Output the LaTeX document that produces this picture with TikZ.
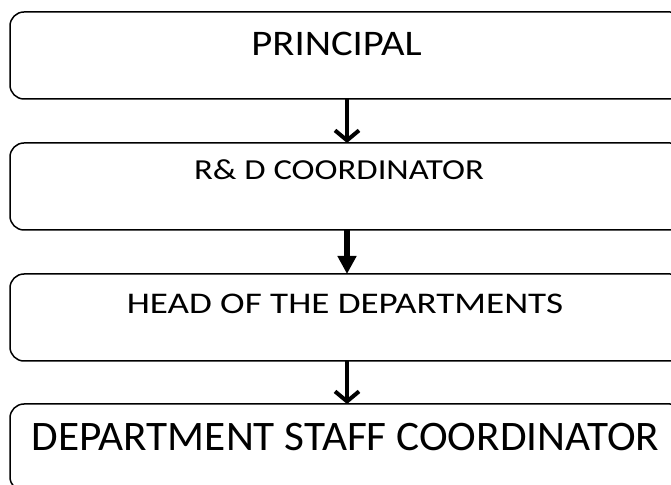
\documentclass[tikz,border=0pt]{standalone}
\usepackage{graphicx}
\usepackage{fontspec}
\setmainfont{Carlito}
\usetikzlibrary{arrows.meta}
\begin{document}
\begin{tikzpicture}[x=1pt,y=1pt,
  box/.style={draw=black,line width=1.5pt,rounded corners=14pt,minimum width=674pt,minimum height=87pt,inner sep=0pt,outer sep=0pt},
  lbl/.style={anchor=base,inner sep=0pt},
  barb/.style={line width=4pt,-{Straight Barb[length=10pt,width=24pt]}},
  tri/.style={line width=6.5pt,-{Triangle[length=18pt,width=18pt]}}]
\useasboundingbox (0,0) rectangle (671,484);
\begin{scope}
\clip (0,0) rectangle (671,484);
\node[box] (b1) at (347,428.5) {};
\node[box] (b2) at (347,297.5) {};
\node[box] (b3) at (347,166.5) {};
\node[box] (b4) at (347,36.5) {};
\end{scope}
\node[lbl,font=\fontsize{36}{42}\selectfont] (t1) at (336.5,428) {\scalebox{1.13}[1]{PRINCIPAL}};
\node[lbl,font=\fontsize{29}{34}\selectfont] (t2) at (339,304) {\scalebox{1.195}[1]{R\&\ D COORDINATOR}};
\node[lbl,font=\fontsize{30}{36}\selectfont] (t3) at (345,170) {\scalebox{1.236}[1]{HEAD OF THE DEPARTMENTS}};
\node[lbl,font=\fontsize{42}{48}\selectfont] (t4) at (345.5,34) {\scalebox{1.03}[1]{DEPARTMENT STAFF COORDINATOR}};
\draw[barb] (b1.south) -- (b2.north);
\draw[tri] (b2.south) -- (b3.north);
\draw[barb] (b3.south) -- (b4.north);
\end{tikzpicture}
\end{document}
